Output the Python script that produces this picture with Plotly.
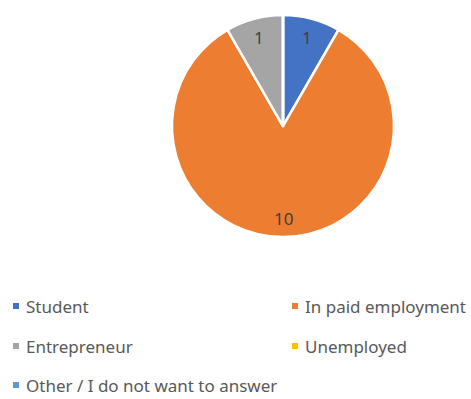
import math
import plotly.graph_objects as go

labels = ["Student", "In paid employment", "Entrepreneur", "Unemployed",
          "Other / I do not want to answer"]
values = [1, 10, 1, 0, 0]
colors = ["#4472C4", "#ED7D31", "#A5A5A5", "#FFC000", "#5B9BD5"]

W, H = 471, 399
cx, cy, r = 283, 126, 111
FONT = "Noto Sans"

fig = go.Figure()
fig.add_trace(go.Pie(
    labels=labels,
    values=values,
    sort=False,
    direction="clockwise",
    rotation=0,
    marker=dict(colors=colors, line=dict(color="white", width=2.5)),
    textinfo="none",
    domain=dict(x=[(cx - r) / W, (cx + r) / W],
                y=[1 - (cy + r) / H, 1 - (cy - r) / H]),
    showlegend=False,
    hoverinfo="label+value",
))

# Value labels placed along each slice's mid-angle (clockwise from 12 o'clock)
total = sum(values)
start = 0.0
for v in values:
    if v > 0:
        mid = (start + v / 2) / total * 2 * math.pi
        rho = 0.83 * r
        px = cx + rho * math.sin(mid)
        py = cy - rho * math.cos(mid)
        fig.add_annotation(xref="paper", yref="paper",
                           x=px / W, y=1 - py / H,
                           xanchor="center", yanchor="middle",
                           text=str(v), showarrow=False,
                           font=dict(family=FONT, size=17, color="#404040"))
    start += v

# Two-column legend below the pie
col_x = [13, 292]
row_y = [306, 346, 385]
for i, (lab, col) in enumerate(zip(labels, colors)):
    row, c = divmod(i, 2)
    x0, y0 = col_x[c], row_y[row]
    fig.add_shape(type="rect", xref="paper", yref="paper",
                  x0=x0 / W, x1=(x0 + 6) / W,
                  y0=1 - (y0 + 3) / H, y1=1 - (y0 - 3) / H,
                  fillcolor=col, line=dict(width=0))
    fig.add_annotation(xref="paper", yref="paper",
                       x=(x0 + 11) / W, y=1 - y0 / H,
                       xanchor="left", yanchor="middle",
                       text=lab, showarrow=False,
                       font=dict(family=FONT, size=17, color="#595959"))

fig.update_layout(width=W, height=H, margin=dict(l=0, r=0, t=0, b=0),
                  paper_bgcolor="white", plot_bgcolor="white")
fig.write_html("out.html")
